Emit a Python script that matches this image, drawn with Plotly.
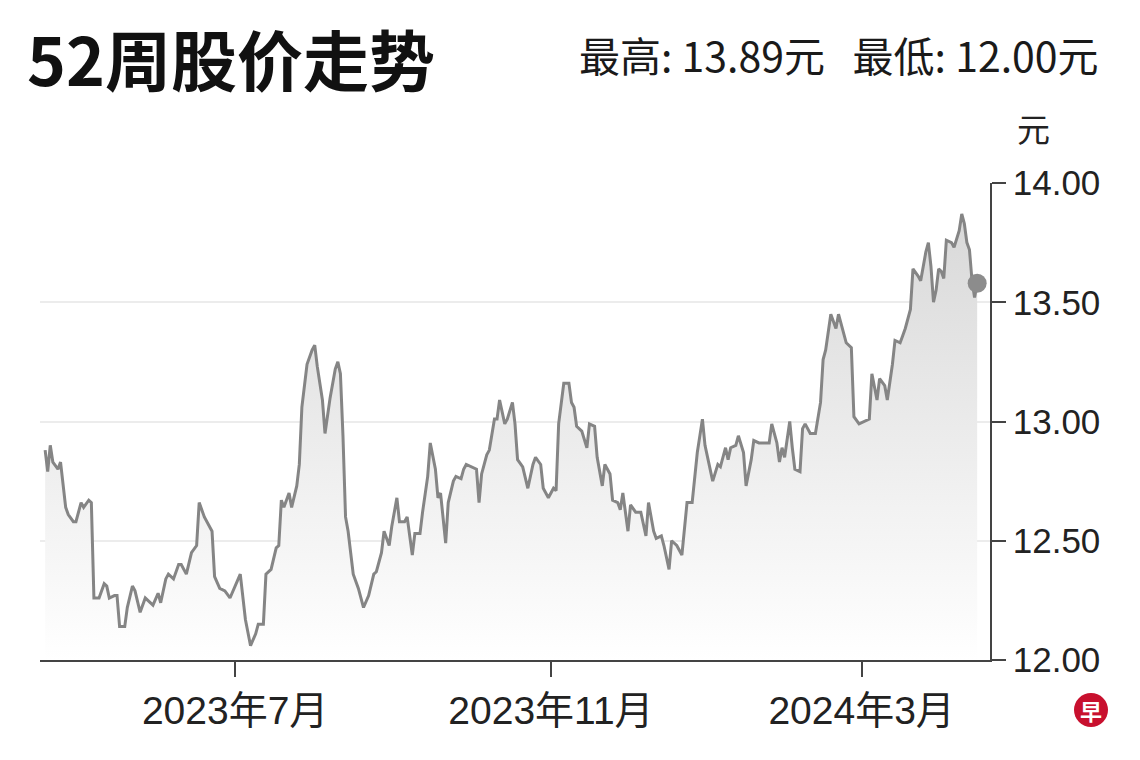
import plotly.graph_objects as go

TITLE = "52周股价走势"
STATS = "最高: 13.89元   最低: 12.00元"
UNIT = "元"

DATES = [
    # 2023-04
    "2023-04-18", "2023-04-19", "2023-04-20", "2023-04-21", "2023-04-23", "2023-04-24",
    "2023-04-26", "2023-04-27", "2023-04-29", "2023-04-30",
    # 2023-05
    "2023-05-02", "2023-05-03", "2023-05-05", "2023-05-06", "2023-05-07", "2023-05-09",
    "2023-05-11", "2023-05-12", "2023-05-13", "2023-05-15", "2023-05-16", "2023-05-17",
    "2023-05-19", "2023-05-20", "2023-05-22", "2023-05-23", "2023-05-25", "2023-05-27",
    "2023-05-28", "2023-05-30",
    # 2023-06
    "2023-06-01", "2023-06-02", "2023-06-04", "2023-06-05", "2023-06-07", "2023-06-09",
    "2023-06-10", "2023-06-12", "2023-06-14", "2023-06-16", "2023-06-17", "2023-06-19",
    "2023-06-22", "2023-06-23", "2023-06-25", "2023-06-27", "2023-06-29",
    # 2023-07
    "2023-07-01", "2023-07-03", "2023-07-05", "2023-07-07", "2023-07-09", "2023-07-10",
    "2023-07-12", "2023-07-13", "2023-07-15", "2023-07-16", "2023-07-17", "2023-07-18",
    "2023-07-19", "2023-07-20", "2023-07-22", "2023-07-23", "2023-07-25", "2023-07-26",
    "2023-07-27", "2023-07-29", "2023-07-31",
    # 2023-08
    "2023-08-01", "2023-08-02", "2023-08-04", "2023-08-05", "2023-08-07", "2023-08-09",
    "2023-08-10", "2023-08-11", "2023-08-12", "2023-08-13", "2023-08-14", "2023-08-16",
    "2023-08-18", "2023-08-20", "2023-08-22", "2023-08-24", "2023-08-25", "2023-08-27",
    "2023-08-28", "2023-08-30", "2023-08-31",
    # 2023-09
    "2023-09-02", "2023-09-03", "2023-09-05", "2023-09-06", "2023-09-08", "2023-09-09",
    "2023-09-11", "2023-09-12", "2023-09-14", "2023-09-15", "2023-09-17", "2023-09-18",
    "2023-09-19", "2023-09-21", "2023-09-22", "2023-09-24", "2023-09-25", "2023-09-27",
    "2023-09-28", "2023-09-29",
    # 2023-10
    "2023-10-01", "2023-10-03", "2023-10-04", "2023-10-05", "2023-10-07", "2023-10-08",
    "2023-10-10", "2023-10-11", "2023-10-12", "2023-10-14", "2023-10-15", "2023-10-17",
    "2023-10-18", "2023-10-19", "2023-10-21", "2023-10-23", "2023-10-25", "2023-10-26",
    "2023-10-28", "2023-10-29", "2023-10-31",
    # 2023-11
    "2023-11-02", "2023-11-03", "2023-11-04", "2023-11-06", "2023-11-08", "2023-11-09",
    "2023-11-10", "2023-11-11", "2023-11-13", "2023-11-15", "2023-11-16", "2023-11-18",
    "2023-11-19", "2023-11-21", "2023-11-22", "2023-11-24", "2023-11-25", "2023-11-27",
    "2023-11-28", "2023-11-29",
    # 2023-12
    "2023-12-01", "2023-12-02", "2023-12-04", "2023-12-06", "2023-12-08", "2023-12-09",
    "2023-12-11", "2023-12-12", "2023-12-14", "2023-12-15", "2023-12-17", "2023-12-18",
    "2023-12-20", "2023-12-22", "2023-12-24", "2023-12-26", "2023-12-28", "2023-12-30",
    "2023-12-31",
    # 2024-01
    "2024-01-03", "2024-01-05", "2024-01-06", "2024-01-08", "2024-01-09", "2024-01-10",
    "2024-01-12", "2024-01-13", "2024-01-15", "2024-01-16", "2024-01-18", "2024-01-19",
    "2024-01-21", "2024-01-24", "2024-01-25", "2024-01-26", "2024-01-28", "2024-01-29",
    "2024-01-30", "2024-01-31",
    # 2024-02
    "2024-02-02", "2024-02-03", "2024-02-04", "2024-02-06", "2024-02-07", "2024-02-08",
    "2024-02-10", "2024-02-12", "2024-02-14", "2024-02-15", "2024-02-16", "2024-02-18",
    "2024-02-20", "2024-02-21", "2024-02-23", "2024-02-24", "2024-02-26", "2024-02-27",
    "2024-02-29",
    # 2024-03
    "2024-03-02", "2024-03-04", "2024-03-05", "2024-03-07", "2024-03-08", "2024-03-10",
    "2024-03-11", "2024-03-13", "2024-03-14", "2024-03-16", "2024-03-17", "2024-03-18",
    "2024-03-20", "2024-03-21", "2024-03-23", "2024-03-24", "2024-03-26", "2024-03-27",
    "2024-03-28", "2024-03-29", "2024-03-30", "2024-03-31",
    # 2024-04
    "2024-04-01", "2024-04-02", "2024-04-03", "2024-04-05", "2024-04-06", "2024-04-08",
    "2024-04-09", "2024-04-10", "2024-04-11", "2024-04-12", "2024-04-13", "2024-04-14",
    "2024-04-15",
]

PRICES = [
    # 2023-04
    12.88, 12.79, 12.90, 12.83, 12.80, 12.83, 12.64, 12.61, 12.58, 12.58,
    # 2023-05
    12.66, 12.64, 12.67, 12.66, 12.26, 12.26, 12.32, 12.31, 12.26, 12.27,
    12.27, 12.14, 12.14, 12.22, 12.31, 12.29, 12.20, 12.26, 12.25, 12.23,
    # 2023-06
    12.28, 12.24, 12.34, 12.36, 12.34, 12.40, 12.40, 12.36, 12.45, 12.48,
    12.66, 12.60, 12.54, 12.35, 12.30, 12.29, 12.26,
    # 2023-07
    12.31, 12.36, 12.17, 12.06, 12.11, 12.15, 12.15, 12.36, 12.38, 12.43,
    12.47, 12.48, 12.67, 12.64, 12.70, 12.64, 12.73, 12.82, 13.06, 13.24, 13.30,
    # 2023-08
    13.32, 13.23, 13.09, 12.95, 13.10, 13.22, 13.25, 13.20, 12.94, 12.60,
    12.54, 12.36, 12.30, 12.22, 12.27, 12.36, 12.37, 12.45, 12.54, 12.48, 12.56,
    # 2023-09
    12.68, 12.58, 12.58, 12.60, 12.44, 12.53, 12.53, 12.62, 12.77, 12.91,
    12.80, 12.68, 12.70, 12.49, 12.66, 12.75, 12.77, 12.76, 12.80, 12.82,
    # 2023-10
    12.81, 12.80, 12.66, 12.78, 12.86, 12.88, 13.01, 13.01, 13.09, 12.99,
    13.01, 13.08, 12.99, 12.84, 12.81, 12.72, 12.82, 12.85, 12.82, 12.72, 12.68,
    # 2023-11
    12.72, 12.71, 12.99, 13.16, 13.16, 13.08, 13.06, 12.98, 12.96, 12.89,
    12.99, 12.98, 12.85, 12.73, 12.82, 12.78, 12.67, 12.66, 12.63, 12.70,
    # 2023-12
    12.54, 12.65, 12.62, 12.62, 12.52, 12.66, 12.54, 12.51, 12.52, 12.48,
    12.38, 12.50, 12.48, 12.44, 12.66, 12.66, 12.87, 13.01, 12.90,
    # 2024-01
    12.75, 12.82, 12.81, 12.89, 12.84, 12.89, 12.90, 12.94, 12.87, 12.73,
    12.84, 12.92, 12.91, 12.91, 12.91, 12.99, 12.91, 12.83, 12.89, 12.85,
    # 2024-02
    13.00, 12.89, 12.80, 12.79, 12.97, 12.99, 12.95, 12.95, 13.08, 13.26,
    13.30, 13.45, 13.39, 13.45, 13.37, 13.33, 13.31, 13.02, 12.99,
    # 2024-03
    13.00, 13.01, 13.20, 13.09, 13.18, 13.15, 13.09, 13.24, 13.34, 13.33,
    13.36, 13.39, 13.47, 13.64, 13.61, 13.59, 13.71, 13.75, 13.65, 13.50,
    13.55, 13.64,
    # 2024-04
    13.63, 13.60, 13.76, 13.75, 13.73, 13.80, 13.87, 13.83, 13.75, 13.72,
    13.59, 13.52, 13.58,
]

assert len(DATES) == len(PRICES)

Y_TICKS = [12.0, 12.5, 13.0, 13.5, 14.0]
Y_TICK_TEXT = ["12.00", "12.50", "13.00", "13.50", "14.00"]
X_TICKS = ["2023-07-01", "2023-11-01", "2024-03-01"]
X_TICK_TEXT = ["2023年7月", "2023年11月", "2024年3月"]
X_RANGE = ["2023-04-16", "2024-04-20"]
Y_RANGE = [12.0, 14.0]

LATIN_CJK = "Liberation Sans, Arial, Noto Sans CJK SC, sans-serif"
CJK = "Noto Sans CJK SC, sans-serif"

fig = go.Figure()

fig.add_trace(go.Scatter(
    x=DATES, y=PRICES, mode="lines",
    line=dict(color="#858585", width=3),
    fill="tozeroy",
    fillgradient=dict(type="vertical", start=12.0, stop=13.9,
                      colorscale=[[0, "rgba(255,255,255,1)"], [1, "rgb(216,216,216)"]]),
    hoverinfo="skip", showlegend=False,
))

fig.add_trace(go.Scatter(
    x=[DATES[-1]], y=[PRICES[-1]], mode="markers",
    marker=dict(color="#8c8c8c", size=19),
    hoverinfo="skip", showlegend=False,
))

fig.update_layout(
    width=1140, height=760,
    margin=dict(l=32, r=158, t=175, b=108),
    paper_bgcolor="white", plot_bgcolor="white",
    hovermode=False,
    xaxis=dict(
        type="date", range=X_RANGE,
        tickmode="array", tickvals=X_TICKS, ticktext=X_TICK_TEXT,
        ticks="outside", ticklen=15, tickwidth=1.5, tickcolor="#444",
        showline=True, linecolor="#444", linewidth=1.5,
        showgrid=False, zeroline=False,
        tickfont=dict(family=LATIN_CJK, size=39, color="#222"),
    ),
    yaxis=dict(
        side="right", range=Y_RANGE,
        tickmode="array", tickvals=Y_TICKS, ticktext=Y_TICK_TEXT,
        ticks="outside", ticklen=14, tickwidth=1.5, tickcolor="#444",
        showline=True, linecolor="#444", linewidth=1.5,
        showgrid=True, gridcolor="#ececec", gridwidth=1.5,
        zeroline=False,
        tickfont=dict(family=LATIN_CJK, size=35, color="#222"),
    ),
)

fig.add_annotation(
    text=f"<b>{TITLE}</b>", xref="paper", yref="paper",
    x=0, xshift=-15, y=1, yshift=126, xanchor="left", yanchor="middle",
    showarrow=False, font=dict(family=CJK, size=66, color="#111"),
)
fig.add_annotation(
    text=STATS, xref="paper", yref="paper",
    x=1, xshift=111, y=1, yshift=129, xanchor="right", yanchor="middle",
    showarrow=False, font=dict(family=CJK, size=41, color="#1a1a1a"),
)
fig.add_annotation(
    text=UNIT, xref="paper", yref="paper",
    x=1, xshift=43, y=1, yshift=55, xanchor="center", yanchor="middle",
    showarrow=False, font=dict(family=CJK, size=33, color="#222"),
)

# logo
fig.add_shape(type="circle", xref="paper", yref="paper",
              xsizemode="pixel", ysizemode="pixel",
              xanchor=1, yanchor=0,
              x0=84, x1=118, y0=-67, y1=-33,
              fillcolor="#c8102e", line=dict(width=0))
fig.add_annotation(
    text="<b>早</b>", xref="paper", yref="paper",
    x=1, xshift=101, y=0, yshift=-50, xanchor="center", yanchor="middle",
    showarrow=False, font=dict(family=CJK, size=22, color="white"),
)

fig.write_html("out.html")
